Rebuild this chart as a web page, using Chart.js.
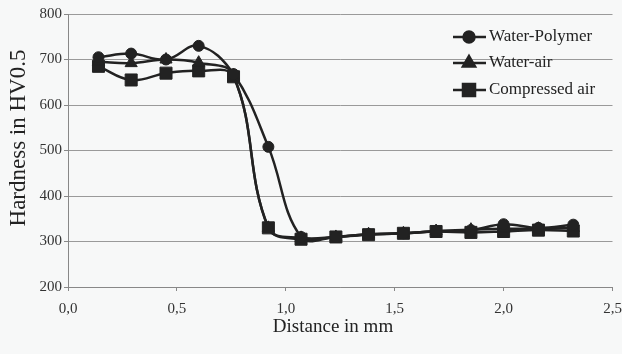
<!DOCTYPE html>
<html>
<head>
<meta charset="utf-8">
<script src="https://cdn.jsdelivr.net/npm/chart.js@4/dist/chart.umd.min.js"></script>
<style>
  html, body { margin: 0; padding: 0; background: #f7f8f8; }
  #wrap { width: 622px; height: 354px; }
</style>
</head>
<body>
<div id="wrap"><canvas id="hardnesschart" width="622" height="354"></canvas></div>
<script>
// distance in mm
let distance = [0.14, 0.29, 0.45, 0.60, 0.76, 0.92, 1.07, 1.23, 1.38, 1.54, 1.69, 1.85, 2.00, 2.16, 2.32];
let waterPolymer = [705, 713, 700, 730, 668, 508, 310, 310, 316, 318, 322, 325, 338, 330, 337];
let waterAir = [695, 692, 700, 693, 665, 330, 308, 310, 316, 318, 323, 326, 328, 328, 330];
let compressedAir = [685, 655, 670, 675, 662, 330, 305, 310, 315, 318, 322, 320, 322, 325, 323];
let seriesNames = ['Water-Polymer', 'Water-air', 'Compressed air'];
let yTicks = [200, 300, 400, 500, 600, 700, 800];
let xTicks = [0, 0.5, 1.0, 1.5, 2.0, 2.5];
let xTitle = 'Distance in mm';
let yTitle = 'Hardness in HV0.5';

const ink = '#222';
const serif = '"Liberation Serif", "Times New Roman", serif';

function toPoints(vals) {
  return vals.map((v, i) => ({ x: distance[i], y: v }));
}

function series(label, vals, style, radius) {
  return {
    label: label,
    data: toPoints(vals),
    borderColor: ink,
    backgroundColor: ink,
    borderWidth: 2.5,
    pointStyle: style,
    pointRadius: radius,
    pointBorderWidth: 1,
    tension: 0.4,
    fill: false
  };
}

// legend inside the plot (line + marker) and the two axis titles
const extras = {
  id: 'extras',
  afterDraw(chart) {
    const ctx = chart.ctx;
    const rows = [37, 63, 90];
    ctx.save();
    chart.data.datasets.forEach((ds, i) => {
      const y = rows[i];
      ctx.strokeStyle = ink;
      ctx.lineWidth = 2.5;
      ctx.beginPath();
      ctx.moveTo(453, y);
      ctx.lineTo(486, y);
      ctx.stroke();
      ctx.fillStyle = ink;
      Chart.helpers.drawPoint(ctx, { pointStyle: ds.pointStyle, radius: ds.pointRadius, rotation: 0, borderWidth: 1 }, 469, y);
      ctx.font = '17px ' + serif;
      ctx.textBaseline = 'middle';
      ctx.textAlign = 'left';
      ctx.fillText(ds.label, 489, y);
    });

    ctx.fillStyle = ink;
    ctx.textAlign = 'center';
    ctx.textBaseline = 'middle';
    ctx.font = '19px ' + serif;
    ctx.fillText(xTitle, 333, 327);

    ctx.translate(19, 138);
    ctx.rotate(-Math.PI / 2);
    ctx.font = '23px ' + serif;
    ctx.fillText(yTitle, 0, 0);
    ctx.restore();
  }
};

var ctx = document.getElementById('hardnesschart').getContext('2d');
var chart = new Chart(ctx, {
  type: 'line',
  data: {
    datasets: [
      series(seriesNames[0], waterPolymer, 'circle', 5.5),
      series(seriesNames[1], waterAir, 'triangle', 7),
      series(seriesNames[2], compressedAir, 'rect', 8.5)
    ]
  },
  options: {
    responsive: false,
    animation: false,
    layout: { padding: { top: 14, right: 9, left: 0, bottom: 0 } },
    plugins: {
      legend: { display: false },
      tooltip: { enabled: false }
    },
    scales: {
      x: {
        type: 'linear',
        min: 0,
        max: 2.5,
        afterBuildTicks: s => { s.ticks = xTicks.map(v => ({ value: v })); },
        afterFit: s => { s.height = 67; s.paddingRight = 0; s.paddingLeft = 0; },
        grid: { color: 'transparent', tickColor: '#888', tickLength: 4 },
        border: { color: '#888', width: 1 },
        ticks: {
          color: '#333',
          padding: 9,
          maxRotation: 0,
          font: { family: serif, size: 15 },
          callback: v => v.toFixed(1).replace('.', ',')
        }
      },
      y: {
        min: 200,
        max: 800,
        afterBuildTicks: s => { s.ticks = yTicks.map(v => ({ value: v })); },
        afterFit: s => { s.width = 68; s.paddingTop = 0; s.paddingBottom = 0; },
        grid: { color: '#9a9a9a', tickColor: '#888', tickLength: 4, lineWidth: 1 },
        border: { color: '#888', width: 1 },
        ticks: {
          color: '#333',
          padding: 2,
          font: { family: serif, size: 15 }
        }
      }
    }
  },
  plugins: [extras]
});
</script>
</body>
</html>
